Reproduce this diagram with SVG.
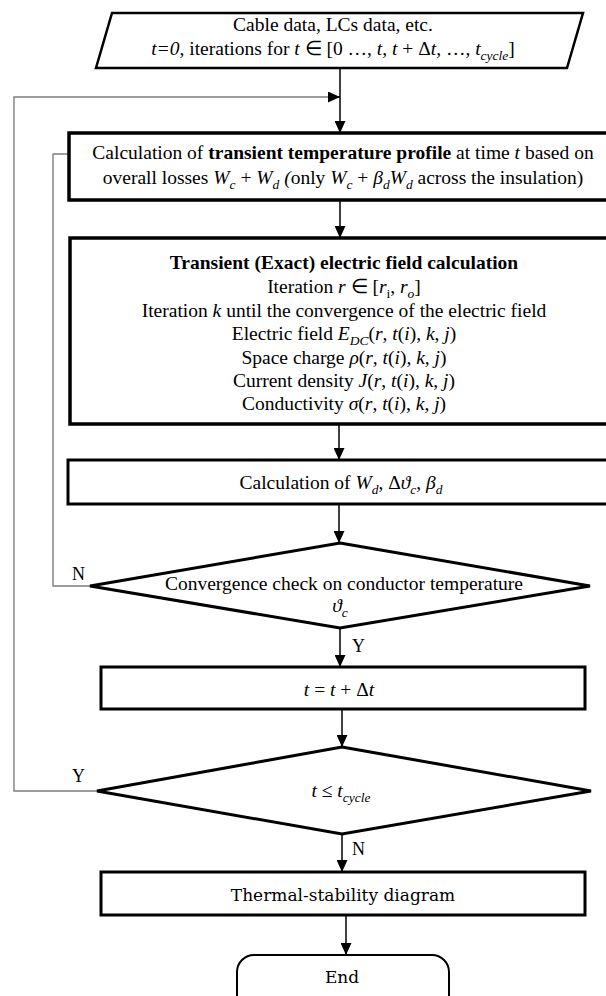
<svg xmlns="http://www.w3.org/2000/svg" width="606" height="996" viewBox="0 0 606 996">
<defs>
<style>
.t{font-family:"Liberation Serif","Times New Roman",serif;font-size:19.5px;fill:#000}
.c{text-anchor:middle}
.i{font-style:italic}
.b{font-weight:bold}
.s{font-size:13.5px}
.lab{font-family:"Liberation Serif","Times New Roman",serif;font-size:18px;fill:#000}
.cam{font-family:"DejaVu Serif",serif;font-size:17px;fill:#000;text-anchor:middle}
.box{fill:#fff;stroke:#000;stroke-width:3}
.thin{fill:#fff;stroke:#000;stroke-width:2}
.arr{fill:none;stroke:#000;stroke-width:1.5}
.loop{fill:none;stroke:#7f7f7f;stroke-width:1.4}
</style>
<marker id="ah" markerUnits="userSpaceOnUse" viewBox="0 0 12 11" markerWidth="12" markerHeight="11" refX="12" refY="5.5" orient="auto">
<path d="M0,0 L12,5.5 L0,11 z" fill="#000"/>
</marker>
</defs>
<rect width="606" height="996" fill="#fff"/>

<g id="connectors">
<path class="arr" d="M340,68 V133" marker-end="url(#ah)"/>
<path class="loop" d="M97,791 H14 V97 H328"/>
<path class="arr" d="M328,97 H340" marker-end="url(#ah)"/>
<path class="loop" d="M90,586 H53 V154 H69"/>
<path class="arr" d="M340,200 V238" marker-end="url(#ah)"/>
<path class="arr" d="M339,424 V460" marker-end="url(#ah)"/>
<path class="arr" d="M339,504 V543" marker-end="url(#ah)"/>
<path class="arr" d="M340,628 V667" marker-end="url(#ah)"/>
<path class="arr" d="M342,709 V747" marker-end="url(#ah)"/>
<path class="arr" d="M342,834 V872" marker-end="url(#ah)"/>
<path class="arr" d="M346,915 V955" marker-end="url(#ah)"/>
<text class="lab" x="72" y="580">N</text>
<text class="lab" x="352" y="652">Y</text>
<text class="lab" x="72" y="782">Y</text>
<text class="lab" x="352" y="855">N</text>
</g>

<g id="input">
<polygon class="thin" points="112,13 583,13 567,68 96,68" style="stroke-width:2.5"/>
<text class="t c" x="333" y="31">Cable data, LCs data, etc.</text>
<text class="t c" x="333" y="55"><tspan class="i">t=0</tspan>, iterations for <tspan class="i">t</tspan> ∈ [0 …, <tspan class="i">t</tspan>, <tspan class="i">t</tspan> + Δ<tspan class="i">t</tspan>, …, <tspan class="i">t</tspan><tspan class="s i" dy="5">cycle</tspan><tspan dy="-5">]</tspan></text>
</g>

<g id="temperature">
<rect class="box" x="69" y="133" width="560" height="67" style="stroke-width:3.5"/>
<text class="t c" x="343" y="159">Calculation of <tspan class="b">transient temperature profile</tspan> at time <tspan class="i">t</tspan> based on</text>
<text class="t c" x="343" y="184">overall losses <tspan class="i">W</tspan><tspan class="s i" dy="5">c</tspan><tspan dy="-5"> + </tspan><tspan class="i">W</tspan><tspan class="s i" dy="5">d</tspan><tspan dy="-5" class="i"> (</tspan>only <tspan class="i">W</tspan><tspan class="s i" dy="5">c</tspan><tspan dy="-5"> + </tspan><tspan class="i">β</tspan><tspan class="s i" dy="5">d</tspan><tspan class="i" dy="-5">W</tspan><tspan class="s i" dy="5">d</tspan><tspan dy="-5"> across the insulation)</tspan></text>
</g>

<g id="efield">
<rect class="box" x="70" y="238" width="560" height="186" style="stroke-width:3.5"/>
<text class="t c b" x="344" y="269">Transient (Exact) electric field calculation</text>
<text class="t c" x="344" y="293">Iteration <tspan class="i">r</tspan> ∈ [<tspan class="i">r</tspan><tspan class="s" dy="5">i</tspan><tspan dy="-5">, </tspan><tspan class="i">r</tspan><tspan class="s i" dy="5">o</tspan><tspan dy="-5">]</tspan></text>
<text class="t c" x="344" y="317">Iteration <tspan class="i">k</tspan> until the convergence of the electric field</text>
<text class="t c" x="344" y="340">Electric field <tspan class="i">E</tspan><tspan class="s i" dy="5">DC</tspan><tspan dy="-5">(</tspan><tspan class="i">r</tspan>, <tspan class="i">t</tspan>(<tspan class="i">i</tspan>), <tspan class="i">k</tspan>, <tspan class="i">j</tspan>)</text>
<text class="t c" x="344" y="364">Space charge <tspan class="i">ρ</tspan>(<tspan class="i">r</tspan>, <tspan class="i">t</tspan>(<tspan class="i">i</tspan>), <tspan class="i">k</tspan>, <tspan class="i">j</tspan>)</text>
<text class="t c" x="344" y="387">Current density <tspan class="i">J</tspan>(<tspan class="i">r</tspan>, <tspan class="i">t</tspan>(<tspan class="i">i</tspan>), <tspan class="i">k</tspan>, <tspan class="i">j</tspan>)</text>
<text class="t c" x="344" y="410">Conductivity <tspan class="i">σ</tspan>(<tspan class="i">r</tspan>, <tspan class="i">t</tspan>(<tspan class="i">i</tspan>), <tspan class="i">k</tspan>, <tspan class="i">j</tspan>)</text>
</g>

<g id="losses">
<rect class="box" x="68" y="460" width="560" height="44"/>
<text class="t c" x="341" y="489">Calculation of <tspan class="i">W</tspan><tspan class="s i" dy="5">d</tspan><tspan dy="-5">, Δ</tspan><tspan class="i">ϑ</tspan><tspan class="s i" dy="5">c</tspan><tspan dy="-5">, </tspan><tspan class="i">β</tspan><tspan class="s i" dy="5">d</tspan></text>
</g>

<g id="check1">
<polygon class="box" points="340,543 590,586 340,628 90,586"/>
<text class="t c" x="344" y="590">Convergence check on conductor temperature</text>
<text class="t c" x="340" y="612"><tspan class="i">ϑ</tspan><tspan class="s i" dy="5">c</tspan></text>
</g>

<g id="step">
<rect class="box" x="101" y="667" width="484" height="42"/>
<text class="t c" x="339" y="696"><tspan class="i">t</tspan> = <tspan class="i">t</tspan> + Δ<tspan class="i">t</tspan></text>
</g>

<g id="check2">
<polygon class="box" points="342,747 591,791 342,834 97,791"/>
<text class="t c" x="341" y="797"><tspan class="i">t</tspan> ≤ <tspan class="i">t</tspan><tspan class="s i" dy="5">cycle</tspan></text>
</g>

<g id="diagram">
<rect class="box" x="101" y="872" width="484" height="43"/>
<text class="cam" x="343" y="901">Thermal-stability diagram</text>
</g>

<g id="end">
<rect class="thin" x="237" y="955" width="212" height="60" rx="17"/>
<text class="cam" x="342" y="983">End</text>
</g>
</svg>
